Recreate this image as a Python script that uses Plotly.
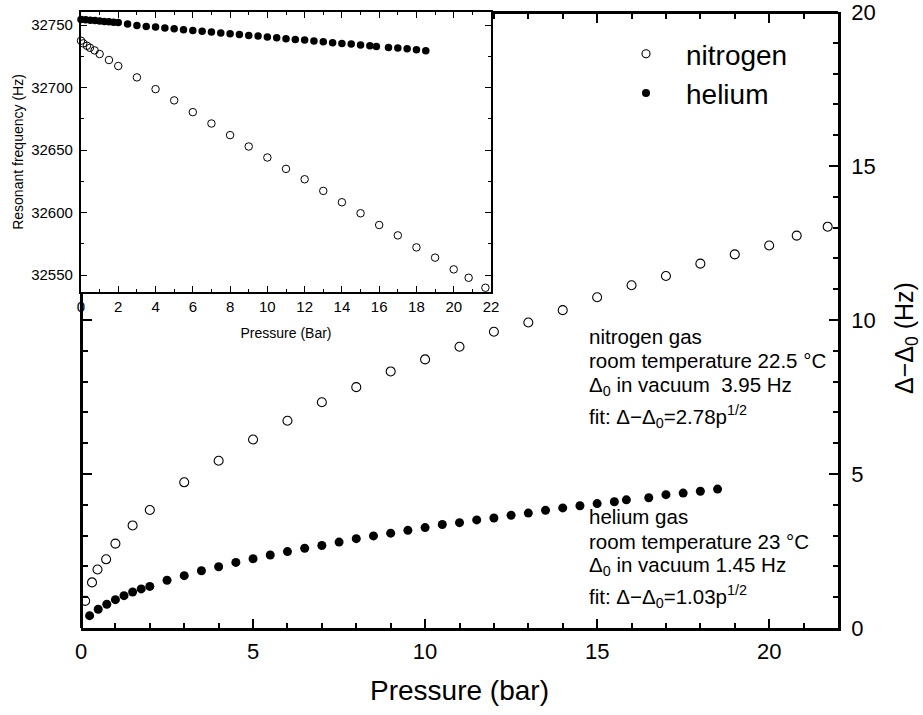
import plotly.graph_objects as go

FONT = "Liberation Sans, Arial, sans-serif"

# ---- main plot data: linewidth shift vs pressure ----
n2_p = [0.12, 0.32, 0.48, 0.73, 1.0, 1.5, 2, 3, 4, 5, 6, 7, 8, 9, 10, 11, 12, 13, 14,
        15, 16, 17, 18, 19, 20, 20.8, 21.7]
n2_d = [0.88, 1.48, 1.90, 2.23, 2.74, 3.33, 3.83, 4.73, 5.43, 6.12, 6.73, 7.33, 7.82,
        8.33, 8.72, 9.13, 9.62, 9.92, 10.32, 10.74, 11.13, 11.43, 11.83, 12.13, 12.42,
        12.74, 13.03]

he_p = [0.25, 0.5, 0.75, 1.0, 1.25, 1.5, 1.75, 2.0, 2.5, 3.0, 3.5, 4.0, 4.5, 5.0, 5.5,
        6.0, 6.5, 7.0, 7.5, 8.0, 8.5, 9.0, 9.5, 10.0, 10.5, 11.0, 11.5, 12.0, 12.5, 13.0,
        13.5, 14.0, 14.5, 15.0, 15.5, 15.85, 16.5, 17.0, 17.5, 18.0, 18.5]
he_d = [0.40, 0.61, 0.77, 0.92, 1.05, 1.17, 1.27, 1.35, 1.55, 1.70, 1.86, 1.99, 2.13,
        2.25, 2.37, 2.48, 2.59, 2.68, 2.79, 2.90, 2.99, 3.08, 3.17, 3.26, 3.36, 3.42,
        3.51, 3.57, 3.66, 3.73, 3.82, 3.90, 3.97, 4.04, 4.10, 4.16, 4.23, 4.33, 4.38,
        4.44, 4.51]

# ---- inset data: resonant frequency vs pressure ----
in_n2_p = [0, 0.12, 0.32, 0.48, 0.73, 1.0, 1.5, 2, 3, 4, 5, 6, 7, 8, 9, 10, 11, 12, 13,
           14, 15, 16, 17, 18, 19, 20, 20.8, 21.7]
in_n2_f = [32737.4, 32735.3, 32733.4, 32731.8, 32729.7, 32726.8, 32722.0, 32717.2,
           32708.1, 32698.7, 32689.7, 32680.3, 32671.2, 32661.9, 32652.8, 32644.0,
           32634.9, 32626.6, 32617.3, 32608.2, 32599.4, 32590.0, 32581.7, 32572.1,
           32563.9, 32554.5, 32547.8, 32539.8]

in_he_p = [0, 0.25, 0.5, 0.75, 1.0, 1.25, 1.5, 1.75, 2.0, 2.5, 3.0, 3.5, 4.0, 4.5, 5.0,
           5.5, 6.0, 6.5, 7.0, 7.5, 8.0, 8.5, 9.0, 9.5, 10.0, 10.5, 11.0, 11.5, 12.0,
           12.5, 13.0, 13.5, 14.0, 14.5, 15.0, 15.5, 15.85, 16.5, 17.0, 17.5, 18.0, 18.5]
in_he_f = [32754.5, 32754.2, 32753.9, 32753.6, 32753.3, 32752.9, 32752.6, 32752.3,
           32752.0, 32750.8, 32749.7, 32748.9, 32748.4, 32747.6, 32747.1, 32746.3,
           32745.7, 32745.0, 32744.4, 32743.6, 32743.0, 32742.5, 32741.7, 32741.2,
           32740.4, 32739.9, 32739.0, 32738.5, 32738.0, 32737.2, 32736.6, 32735.8,
           32735.3, 32734.8, 32734.0, 32733.4, 32732.9, 32732.1, 32731.6, 32731.0,
           32730.2, 32729.4]

W, H = 923, 715
ml, mr, mt, mb = 81, 85, 12, 87
pw, ph = W - ml - mr, H - mt - mb

def px(x):
    return (x - ml) / pw

def py(y):
    return (H - mb - y) / ph

X_MAX, Y_MAX = 22, 20
INSET_R, INSET_B = 491, 292  # pixel edges of the inset frame

open_marker = dict(symbol="circle-open", size=9, color="black", line=dict(width=1.1, color="black"))
fill_marker = dict(symbol="circle", size=9, color="black")

fig = go.Figure()
fig.add_trace(go.Scatter(x=n2_p, y=n2_d, mode="markers", marker=open_marker,
                         showlegend=False, xaxis="x", yaxis="y", cliponaxis=False))
fig.add_trace(go.Scatter(x=he_p, y=he_d, mode="markers", marker=fill_marker,
                         showlegend=False, xaxis="x", yaxis="y", cliponaxis=False))
# legend entries
fig.add_trace(go.Scatter(x=[None], y=[None], mode="markers", name="nitrogen",
                         marker=dict(symbol="circle-open", size=8, color="black",
                                     line=dict(width=1.1, color="black"))))
fig.add_trace(go.Scatter(x=[None], y=[None], mode="markers", name="helium",
                         marker=dict(symbol="circle", size=8, color="black")))
# helper axes for the parts of the main frame outside the inset
fig.add_trace(go.Scatter(x=[None], y=[None], xaxis="x3", yaxis="y3", showlegend=False))
# inset
fig.add_trace(go.Scatter(x=in_n2_p, y=in_n2_f, mode="markers",
                         marker=dict(symbol="circle-open", size=7.5, color="black",
                                     line=dict(width=1, color="black")),
                         showlegend=False, xaxis="x2", yaxis="y2", cliponaxis=False))
fig.add_trace(go.Scatter(x=in_he_p, y=in_he_f, mode="markers",
                         marker=dict(symbol="circle", size=7.5, color="black"),
                         showlegend=False, xaxis="x2", yaxis="y2", cliponaxis=False))

axis_common = dict(showgrid=False, zeroline=False, showline=True, linecolor="black",
                   ticks="inside", tickcolor="black", automargin=False)
main_minor = dict(dtick=1, ticklen=5, tickwidth=1.5, ticks="inside", tickcolor="black")

x3_lo = X_MAX * px(INSET_R)
y3_hi = Y_MAX * py(INSET_B)

fig.update_layout(
    width=W, height=H,
    margin=dict(l=ml, r=mr, t=mt, b=mb),
    paper_bgcolor="white", plot_bgcolor="rgba(0,0,0,0)",
    font=dict(family=FONT, color="black"),
    xaxis=dict(**axis_common, domain=[0, 1], anchor="y", range=[0, X_MAX],
               linewidth=2.5, tick0=0, dtick=5, ticklen=9, tickwidth=1.5,
               minor=main_minor, tickfont=dict(size=22), ticklabelstandoff=2,
               ticklabeloverflow="allow",
               title=dict(text="Pressure (bar)", font=dict(size=28), standoff=18)),
    yaxis=dict(**axis_common, domain=[0, 1], anchor="x", side="right", range=[0, Y_MAX],
               linewidth=2.5, tick0=0, dtick=5, ticklen=9, tickwidth=1.5,
               minor=main_minor, tickfont=dict(size=22), ticklabelstandoff=6,
               ticklabeloverflow="allow"),
    xaxis3=dict(**axis_common, domain=[px(INSET_R), 1], anchor="free", position=1,
                side="top", range=[x3_lo, X_MAX], linewidth=2.5, tick0=0, dtick=5,
                ticklen=9, tickwidth=1.5, showticklabels=False, minor=main_minor),
    yaxis3=dict(**axis_common, domain=[0, py(INSET_B)], anchor="free", position=0,
                side="left", range=[0, y3_hi], linewidth=2.5, tick0=0, dtick=5,
                ticklen=9, tickwidth=1.5, showticklabels=False, minor=main_minor),
    xaxis2=dict(**axis_common, domain=[0, px(INSET_R)], anchor="y2", range=[0, 22],
                linewidth=2.2, mirror="ticks", tick0=0, dtick=2, ticklen=6,
                tickwidth=1,
                minor=dict(dtick=1, ticklen=3, tickwidth=1, ticks="inside", tickcolor="black"),
                tickfont=dict(size=15), ticklabelstandoff=0,
                title=dict(text="Pressure (Bar)", font=dict(size=14), standoff=14)),
    yaxis2=dict(**axis_common, domain=[py(INSET_B), 1], anchor="x2",
                range=[32536.4, 32760.4], linewidth=2.2, mirror="ticks", tick0=32550,
                dtick=50, ticklen=6, tickwidth=1, tickformat="d",
                minor=dict(dtick=25, ticklen=3, tickwidth=1, ticks="inside", tickcolor="black"),
                tickfont=dict(size=15), ticklabelstandoff=3,
                title=dict(text="Resonant frequency (Hz)", font=dict(size=14), standoff=4)),
    legend=dict(x=px(606), y=py(29), xanchor="left", yanchor="top",
                bgcolor="rgba(0,0,0,0)", font=dict(size=28), tracegroupgap=0,
                itemwidth=70, itemsizing="trace"),
)

# right-hand axis title
fig.add_annotation(text="Δ−Δ<sub>0</sub> (Hz)", x=px(906), y=py(338), xref="paper",
                   yref="paper", xanchor="center", yanchor="middle", textangle=-90,
                   showarrow=False, font=dict(size=25, family=FONT, color="black"))

txt_x = px(587)
lines = [
    ("nitrogen gas", 336),
    ("room temperature 22.5 °C", 361),
    ("Δ<sub>0</sub> in vacuum  3.95 Hz", 386),
    ("fit: Δ−Δ<sub>0</sub>=2.78p<sup>1/2</sup>", 416),
    ("helium gas", 516),
    ("room temperature 23 °C", 541),
    ("Δ<sub>0</sub> in vacuum 1.45 Hz", 566),
    ("fit: Δ−Δ<sub>0</sub>=1.03p<sup>1/2</sup>", 596),
]
for t, yy in lines:
    fig.add_annotation(text=t, x=txt_x, y=py(yy), xref="paper", yref="paper",
                       xanchor="left", yanchor="middle", showarrow=False,
                       font=dict(size=20.5, family=FONT, color="black"))

fig.write_html("out.html")
